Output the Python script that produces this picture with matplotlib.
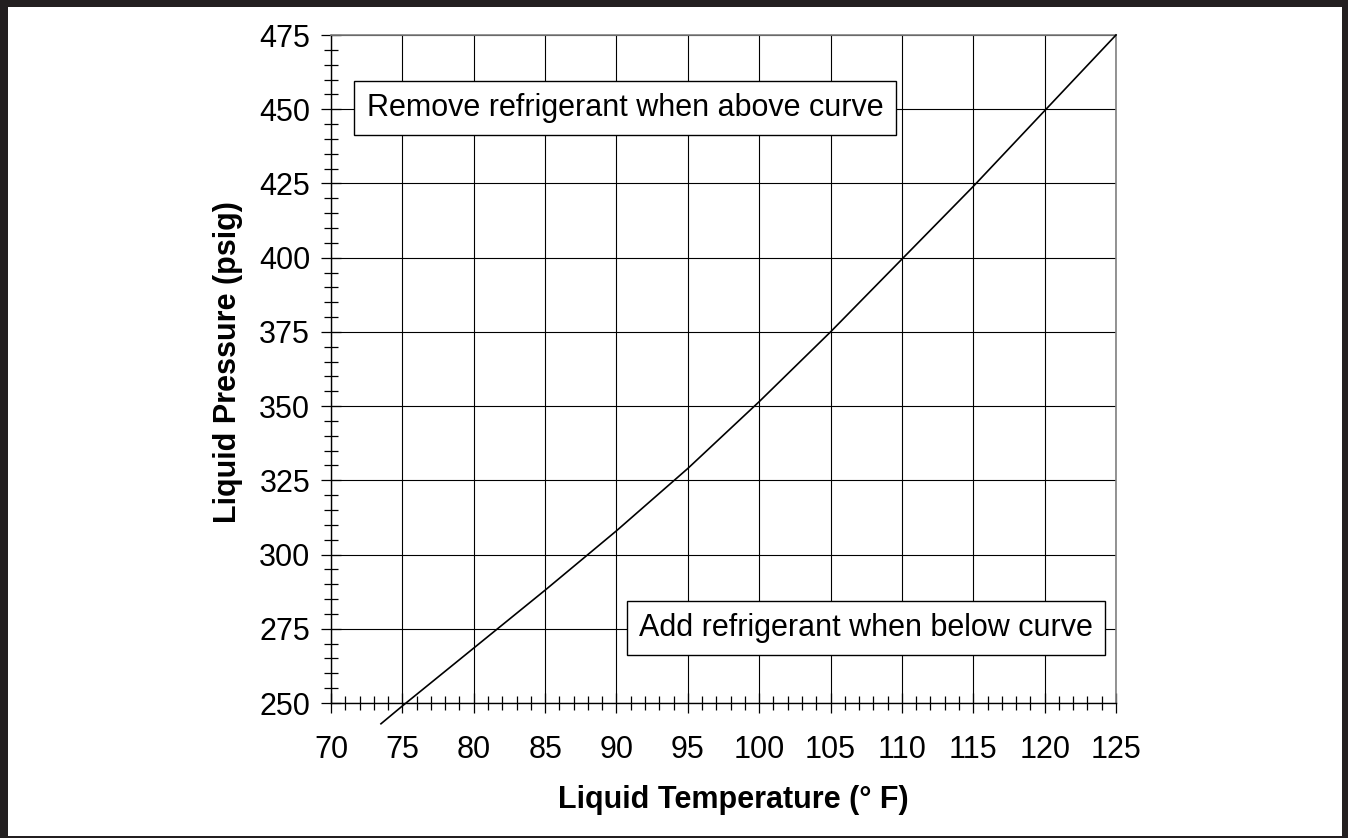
import matplotlib
matplotlib.use("Agg")
import matplotlib.pyplot as plt
from matplotlib.patches import Rectangle
from matplotlib.ticker import MultipleLocator

# liquid temperature (F) vs liquid pressure (psig)
temp_f = [73.5, 75, 80, 85, 90, 95, 100, 105, 110, 115, 120, 125]
pressure_psig = [243, 249, 268.5, 288, 308, 329, 351.5, 375, 399.5, 424, 449.5, 475]

x_ticks = list(range(70, 126, 5))
y_ticks = list(range(250, 476, 25))

remove_text = "Remove refrigerant when above curve"
add_text = "Add refrigerant when below curve"

plt.rcParams['font.family'] = ['Liberation Sans', 'DejaVu Sans']

fig = plt.figure(figsize=(13.48, 8.38), dpi=100)
ax = fig.add_axes([331 / 1348, 135 / 838, 785 / 1348, 668 / 838])

ax.set_xlim(70, 125)
ax.set_ylim(250, 475)
ax.set_xticks(x_ticks)
ax.set_yticks(y_ticks)
ax.xaxis.set_minor_locator(MultipleLocator(1))
ax.yaxis.set_minor_locator(MultipleLocator(5))

ax.grid(True, which='major', color='black', linewidth=0.8, zorder=1)
ax.set_axisbelow(True)

ax.tick_params(which='major', direction='inout', length=14, width=0.9,
               labelsize=22, color='black')
ax.tick_params(which='minor', direction='inout', length=9.5, width=0.9,
               color='black')
ax.tick_params(axis='x', which='major', pad=16)
ax.tick_params(axis='y', which='major', pad=8)

for side in ['left', 'bottom']:
    ax.spines[side].set_color('black')
    ax.spines[side].set_linewidth(1.0)
for side in ['top', 'right']:
    ax.spines[side].set_color('#808080')
    ax.spines[side].set_linewidth(1.2)

ax.plot(temp_f, pressure_psig, color='black', linewidth=1.2, clip_on=False, zorder=3)

box = dict(boxstyle='square,pad=0.4', facecolor='white', edgecolor='black', linewidth=1.0)
ax.text(90.6, 450.4, remove_text, fontsize=22, ha='center', va='center',
        bbox=box, zorder=4)
ax.text(107.5, 275.3, add_text, fontsize=22, ha='center', va='center',
        bbox=box, zorder=4)

fig.text(733 / 1348, 1 - 800 / 838, "Liquid Temperature (° F)", fontsize=22,
         fontweight='bold', ha='center', va='center')
fig.text(228 / 1348, 1 - 362 / 838, "Liquid Pressure (psig)", fontsize=22,
         fontweight='bold', ha='center', va='center', rotation=90)

# thick frame around the whole figure
frame = '#231f20'
fig.add_artist(Rectangle((0, 1 - 7 / 838), 1, 7 / 838, transform=fig.transFigure,
                         color=frame, lw=0))
fig.add_artist(Rectangle((0, 0), 8 / 1348, 1, transform=fig.transFigure,
                         color=frame, lw=0))
fig.add_artist(Rectangle((1 - 6 / 1348, 0), 6 / 1348, 1, transform=fig.transFigure,
                         color=frame, lw=0))
fig.add_artist(Rectangle((0, 0), 1, 2 / 838, transform=fig.transFigure,
                         color=frame, lw=0))

fig.savefig("out.png", dpi=100)
